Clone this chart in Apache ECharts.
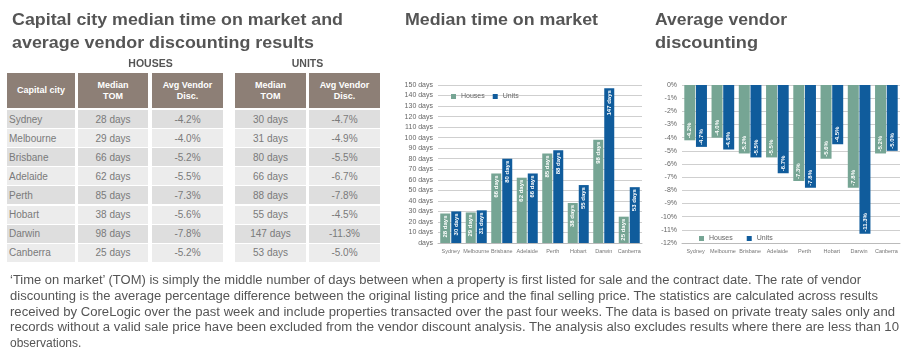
<!DOCTYPE html>
<html><head><meta charset="utf-8">
<script src="https://cdn.jsdelivr.net/npm/echarts@6/dist/echarts.min.js"></script>
<style>
html,body{margin:0;padding:0;background:#fff;width:920px;height:361px;overflow:hidden;font-family:"Liberation Sans",Arial,sans-serif;}
#chart{position:absolute;left:0;top:0;width:920px;height:361px;}
#ov{position:absolute;left:0;top:0;width:920px;height:361px;pointer-events:none;}
.t{position:absolute;white-space:nowrap;}
.cell{position:absolute;display:flex;align-items:center;justify-content:center;text-align:center;box-sizing:border-box;}
</style></head>
<body>
<div id="chart"></div>
<div id="ov"></div>
<script>
const cities = ['Sydney','Melbourne','Brisbane','Adelaide','Perth','Hobart','Darwin','Canberra'];
const houseTOM = [28,29,66,62,85,38,98,25];
const unitTOM = [30,31,80,66,88,55,147,53];
const houseDisc = [-4.2,-4.0,-5.2,-5.5,-7.3,-5.6,-7.8,-5.2];
const unitDisc = [-4.7,-4.9,-5.5,-6.7,-7.8,-4.5,-11.3,-5.0];
const paraLines = [
"\u2018Time on market\u2019 (TOM) is simply the middle number of days between when a property is first listed for sale and the contract date.  The rate of vendor",
"discounting is the average percentage difference between the original listing price and the final selling price.  The statistics are calculated across results",
"received by CoreLogic over the past week and include properties transacted over the past four weeks. The data is based on private treaty sales only and",
"records without a valid sale price have been excluded from the vendor discount analysis. The analysis also excludes results where there are less than 10",
"observations."
];

const ov = document.getElementById('ov');
function add(cls, txt, style){const d=document.createElement('div');d.className=cls;d.textContent=txt;Object.assign(d.style,style);ov.appendChild(d);return d;}
function fitW(el, w){const r=el.getBoundingClientRect().width; if(r>0){el.style.transformOrigin='0 0';el.style.transform='scaleX('+(w/r)+')';}}

// titles
const titleStyle={color:'#555',fontWeight:'bold',fontSize:'17px'};
fitW(add('t','Capital city median time on market and',Object.assign({left:'12px',top:'10px'},titleStyle)),331);
fitW(add('t','average vendor discounting results',Object.assign({left:'12px',top:'33px'},titleStyle)),302);
fitW(add('t','Median time on market',Object.assign({left:'405px',top:'10px'},titleStyle)),193);
fitW(add('t','Average vendor',Object.assign({left:'655px',top:'10px'},titleStyle)),132);
fitW(add('t','discounting',Object.assign({left:'655px',top:'33px'},titleStyle)),103);

// table
add('cell','HOUSES',{left:'78px',top:'56px',width:'145px',height:'14px',color:'#555',fontWeight:'bold',fontSize:'10.5px'});
add('cell','UNITS',{left:'235px',top:'56px',width:'145px',height:'14px',color:'#555',fontWeight:'bold',fontSize:'10.5px'});
const cols=[{x:7,w:68},{x:78,w:70},{x:152,w:71},{x:235,w:71},{x:309,w:71}];
const heads=['Capital city','Median\nTOM','Avg Vendor\nDisc.','Median\nTOM','Avg Vendor\nDisc.'];
cols.forEach((c,i)=>{
  const d=add('cell','',{left:c.x+'px',top:'73px',width:c.w+'px',height:'35px',background:'#8d7f76',color:'#fff',fontWeight:'bold',fontSize:'9px',lineHeight:'11px',whiteSpace:'pre'});
  d.textContent=heads[i];
});
cities.forEach((city,r)=>{
  const y=110+r*19.1;
  const vals=[city,houseTOM[r]+' days',houseDisc[r].toFixed(1)+'%',unitTOM[r]+' days',unitDisc[r].toFixed(1)+'%'];
  cols.forEach((c,i)=>{
    const st={left:c.x+'px',top:y+'px',width:c.w+'px',height:'18px',background:(r%2===0?'#dedede':'#ececec'),color:'#7a7a7a',fontSize:'10px'};
    if(i===0){st.justifyContent='flex-start';st.paddingLeft='2px';}
    add('cell',vals[i],st);
  });
});

// paragraph
const targetW=[851,868,885,889,0];
paraLines.forEach((l,i)=>{
  const el=add('t',l,{left:'10px',top:(273+i*15.8)+'px',color:'#555',fontSize:'12px'});
  if(targetW[i]) fitW(el,targetW[i]);
});

const HC='#76a594', UC='#105c9c';
const chart=echarts.init(document.getElementById('chart'));
const axLab={color:'#666',fontSize:7,fontFamily:'Liberation Sans'};
const catLab={color:'#777',fontSize:5.5,fontFamily:'Liberation Sans',interval:0,margin:5};
function lab(pos,align,fmt){return {show:true,position:pos,rotate:90,align:align,verticalAlign:'middle',distance:2,color:'#fff',fontSize:6,fontWeight:'bold',fontFamily:'Liberation Sans',formatter:fmt};}
chart.setOption({
  animation:false,
  grid:[
    {left:438,right:278,top:85,bottom:118},
    {left:682,right:20,top:85,bottom:118}
  ],
  legend:[
    {left:446,top:88,itemWidth:5,itemHeight:5,itemGap:8,icon:'rect',textStyle:{color:'#666',fontSize:7},data:['Houses','Units']},
    {left:694,top:230,itemWidth:5,itemHeight:5,itemGap:14,icon:'rect',textStyle:{color:'#666',fontSize:7},data:['Houses','Units']}
  ],
  xAxis:[
    {type:'category',gridIndex:0,data:cities,axisTick:{show:false},axisLine:{lineStyle:{color:'#bbb'}},axisLabel:catLab},
    {type:'category',gridIndex:1,data:cities,axisTick:{show:false},axisLine:{onZero:false,lineStyle:{color:'#bbb'}},axisLabel:catLab}
  ],
  yAxis:[
    {type:'value',gridIndex:0,min:0,max:150,interval:10,axisLabel:Object.assign({formatter:v=>v===0?'days':v+' days',margin:5},axLab),splitLine:{lineStyle:{color:'#cfcfcf'}},axisLine:{show:false},axisTick:{show:false}},
    {type:'value',gridIndex:1,min:-12,max:0,interval:1,axisLabel:Object.assign({formatter:'{value}%',margin:5},axLab),splitLine:{lineStyle:{color:'#cfcfcf'}},axisLine:{show:false},axisTick:{show:false}}
  ],
  series:[
    {name:'Houses',type:'bar',xAxisIndex:0,yAxisIndex:0,data:houseTOM,itemStyle:{color:HC},barWidth:10,barGap:'10%',label:lab('insideTop','right','{c} days')},
    {name:'Units',type:'bar',xAxisIndex:0,yAxisIndex:0,data:unitTOM,itemStyle:{color:UC},barWidth:10,barGap:'10%',label:lab('insideTop','right','{c} days')},
    {name:'Houses',type:'bar',xAxisIndex:1,yAxisIndex:1,data:houseDisc,itemStyle:{color:HC},barWidth:11,barGap:'6%',label:lab('insideBottom','left',p=>p.value.toFixed(1)+'%')},
    {name:'Units',type:'bar',xAxisIndex:1,yAxisIndex:1,data:unitDisc,itemStyle:{color:UC},barWidth:11,barGap:'6%',label:lab('insideBottom','left',p=>p.value.toFixed(1)+'%')}
  ]
});
</script>
</body></html>
